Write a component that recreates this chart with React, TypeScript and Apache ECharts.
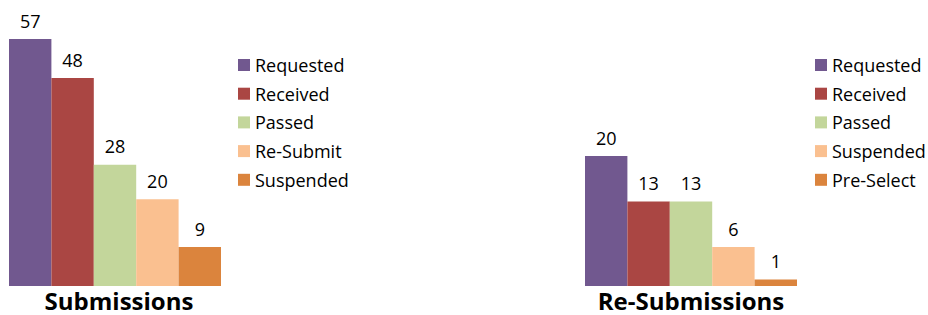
import React, { useEffect, useRef } from "react";
import * as echarts from "echarts";

const colors = ["#71588F", "#AA4643", "#C3D69B", "#FAC090", "#DB843D"];

const subNames = ["Requested", "Received", "Passed", "Re-Submit", "Suspended"];
const subValues = [57, 48, 28, 20, 9];

const reNames = ["Requested", "Received", "Passed", "Suspended", "Pre-Select"];
const reValues = [20, 13, 13, 6, 1];

const titles = ["Submissions", "Re-Submissions"];

const FONT = "'Open Sans', 'Noto Sans', sans-serif";

export default function App() {
  const ref = useRef<HTMLDivElement>(null);
  useEffect(() => {
    if (!ref.current) return;
    const chart = echarts.init(ref.current, null, { renderer: "svg" });

    const makeSeries = (names: string[], values: number[], idx: number) =>
      names.map((n, i) => ({
        type: "bar",
        name: n,
        xAxisIndex: idx,
        yAxisIndex: idx,
        data: [values[i]],
        barGap: "0%",
        barCategoryGap: "0%",
        itemStyle: { color: colors[i] },
        label: {
          show: true,
          position: "top",
          distance: 9.5,
          color: "#000",
          fontSize: 18,
          fontFamily: FONT,
        },
      }));

    const makeLegend = (names: string[], left: number) => ({
      orient: "vertical",
      left,
      top: 56,
      padding: 0,
      itemWidth: 12,
      itemHeight: 12,
      itemGap: 10.7,
      icon: "rect",
      selectedMode: false,
      textStyle: {
        fontSize: 18,
        lineHeight: 18,
        fontFamily: FONT,
        color: "#000",
      },
      data: names.map((n, i) => ({ name: n, itemStyle: { color: colors[i] } })),
    });

    const makeTitle = (text: string, left: number) => ({
      text,
      left,
      top: 288,
      padding: 0,
      textAlign: "center",
      textStyle: { fontSize: 24, fontWeight: "bold", fontFamily: FONT, color: "#000" },
    });

    chart.setOption({
      animation: false,
      title: [makeTitle(titles[0], 119), makeTitle(titles[1], 691)],
      legend: [makeLegend(subNames, 238), makeLegend(reNames, 815)],
      grid: [
        { left: 9, width: 212, top: 26, height: 260 },
        { left: 585, width: 212, top: 26, height: 260 },
      ],
      xAxis: [0, 1].map((g) => ({
        type: "category",
        gridIndex: g,
        data: [""],
        show: false,
      })),
      yAxis: [
        { type: "value", gridIndex: 0, min: 0, max: 60, show: false },
        { type: "value", gridIndex: 1, min: 0, max: 40, show: false },
      ],
      series: [...makeSeries(subNames, subValues, 0), ...makeSeries(reNames, reValues, 1)],
    });
    return () => chart.dispose();
  }, []);

  return (
    <div
      ref={ref}
      style={{ position: "fixed", left: 0, top: 0, width: 928, height: 315, background: "#fff" }}
    />
  );
}
